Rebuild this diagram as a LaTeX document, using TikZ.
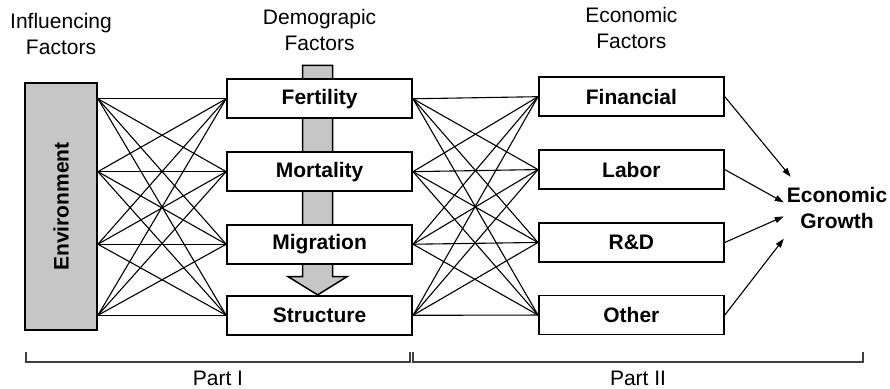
\documentclass[tikz,border=0pt]{standalone}
\usepackage{fontspec}
\setmainfont{Liberation Sans}
\usetikzlibrary{arrows.meta,
                matrix,
                calc,
                backgrounds}
\newcommand\figfont{\fontsize{21}{26}\selectfont}

\begin{document}
\begin{tikzpicture}[x=1pt, y=1pt,
every edge/.style = {draw, line width=1.1pt, black},
      link/.style = {-{Triangle[length=9pt, width=6pt]}},
       box/.style = {draw, line width=1.8pt, fill=white, inner sep=0pt,
                     minimum width=185pt, minimum height=39pt, font=\figfont\bfseries},
    envbox/.style = {box, fill=gray!45, minimum width=72pt, minimum height=247pt},
      head/.style = {align=center, font=\figfont},
    growth/.style = {align=center, inner sep=0pt, font=\figfont\bfseries,
                     minimum width=106pt, minimum height=62pt},
   bracket/.style = {draw, line width=1.2pt, black!75},
         M/.style = {matrix of nodes,
                     nodes = {box},
                     column sep=125pt,
                     row sep=30pt}
                    ]
\useasboundingbox (0,0) rectangle (890,-388);

\matrix (m) [M] at (475.5,-206)
{
Fertility & Financial \\
Mortality & Labor     \\
Migration & R\&D      \\
Structure & Other     \\
};
\node[envbox] (env) at (61,-206.5) {\rotatebox{90}{Environment}};

% demographic transition arrow
\begin{scope}[on background layer]
\draw[line width=1.5pt, fill=gray!45]
      ($(m-1-1.north)+(-17,13)$) -- ($(m-3-1.south)+(-17,-12)$)
   -- ($(m-3-1.south)+(-31.5,-12)$) -- ($(m-4-1.north)+(-2,0)$)
   -- ($(m-3-1.south)+(27.5,-12)$) -- ($(m-3-1.south)+(13,-12)$)
   -- ($(m-1-1.north)+(13,13)$) -- cycle;
\end{scope}

\foreach \i in {1,...,4}
  \foreach \j in {1,...,4}
    \draw (env.east |- m-\i-1) edge (m-\j-1.west)
          (m-\i-1.east)        edge (m-\j-2.west);

\node[growth] (eg) at (837,-208) {Economic\\Growth};
\draw   (m-1-2.east) edge [link] (eg.146)
        (m-2-2.east) edge [link] (eg.174)
        (m-3-2.east) edge [link] (eg.189)
        (m-4-2.east) edge [link] (eg.210);

% headings
\node[head] (h1) at ($(env.north)+(0,48)$)   {Influencing\\Factors};
\node[head] (h2) at ($(m-1-1.north)+(0,48)$) {Demograpic\\Factors};
\node[head] (h3) at ($(m-1-2.north)+(0,48)$) {Economic\\Factors};

% parts
\coordinate (b1) at (26,-352);
\coordinate (b2) at (410,-352);
\coordinate (b3) at (413,-352);
\coordinate (b4) at (863,-352);
\draw[bracket] (b1) -- ++(0,-10) -| (b2);
\draw[bracket] (b3) -- ++(0,-10) -| (b4);
\node[anchor=base, font=\figfont] (p1) at ($(b1)!0.5!(b2)+(0,-33)$) {Part I};
\node[anchor=base, font=\figfont] (p2) at ($(b3)!0.5!(b4)+(0,-33)$) {Part II};
\end{tikzpicture}
\end{document}
